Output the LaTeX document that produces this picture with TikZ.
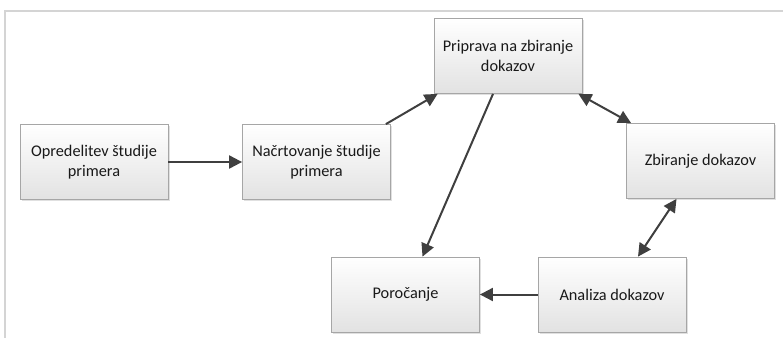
\documentclass[tikz,border=0pt]{standalone}
\usepackage{fontspec}
\setmainfont{Carlito}
\usetikzlibrary{arrows.meta,shadows}
\definecolor{framegray}{HTML}{D4D4D4}
\definecolor{boxedge}{HTML}{A6A6A6}
\definecolor{boxbottom}{HTML}{E2E2E2}
\definecolor{linkgray}{HTML}{3F3F3F}
\tikzset{
  stage/.style={draw=boxedge, line width=0.8pt, top color=white, bottom color=boxbottom,
    minimum width=148pt, minimum height=75pt, align=center, inner sep=2pt,
    font=\fontsize{16.3}{20}\selectfont, text=black!90,
    drop shadow={shadow xshift=1.5pt, shadow yshift=-1.5pt, opacity=0.3, fill=black!40}},
  tip/.tip={Triangle[length=13pt,width=13pt]},
  link/.style={draw=linkgray, line width=2pt, -tip},
  twoway/.style={draw=linkgray, line width=2pt, tip-tip}
}
\begin{document}
\begin{tikzpicture}[x=1pt, y=-1pt]
  \useasboundingbox (0,0) rectangle (783,338);
  % outer frame
  \draw[framegray, line width=2pt] (783,11) -- (5,11) -- (5,338);

  \node[stage] (opr) at (94,162)    {Opredelitev študije\\primera};
  \node[stage] (nac) at (316.5,162) {Načrtovanje študije\\primera};
  \node[stage] (pri) at (508,56)    {Priprava na zbiranje\\dokazov};
  \node[stage] (zbi) at (700.5,161) {Zbiranje dokazov};
  \node[stage] (ana) at (612,294.5) {Analiza dokazov};
  \node[stage] (por) at (405.5,294.5) {Poročanje};

  \draw[link] (opr.east) -- (nac.west);
  \draw[link] ([xshift=-5pt]nac.north east) -- ([xshift=4pt]pri.south west);
  \draw[link] ([xshift=-15pt]pri.south) -- ([xshift=17pt]por.north);
  \draw[twoway] ([xshift=-4pt]pri.south east) -- ([xshift=5pt]zbi.north west);
  \draw[twoway] ([xshift=-24pt]zbi.south) -- ([xshift=26pt]ana.north);
  \draw[link] (ana.west) -- (por.east);
\end{tikzpicture}
\end{document}
